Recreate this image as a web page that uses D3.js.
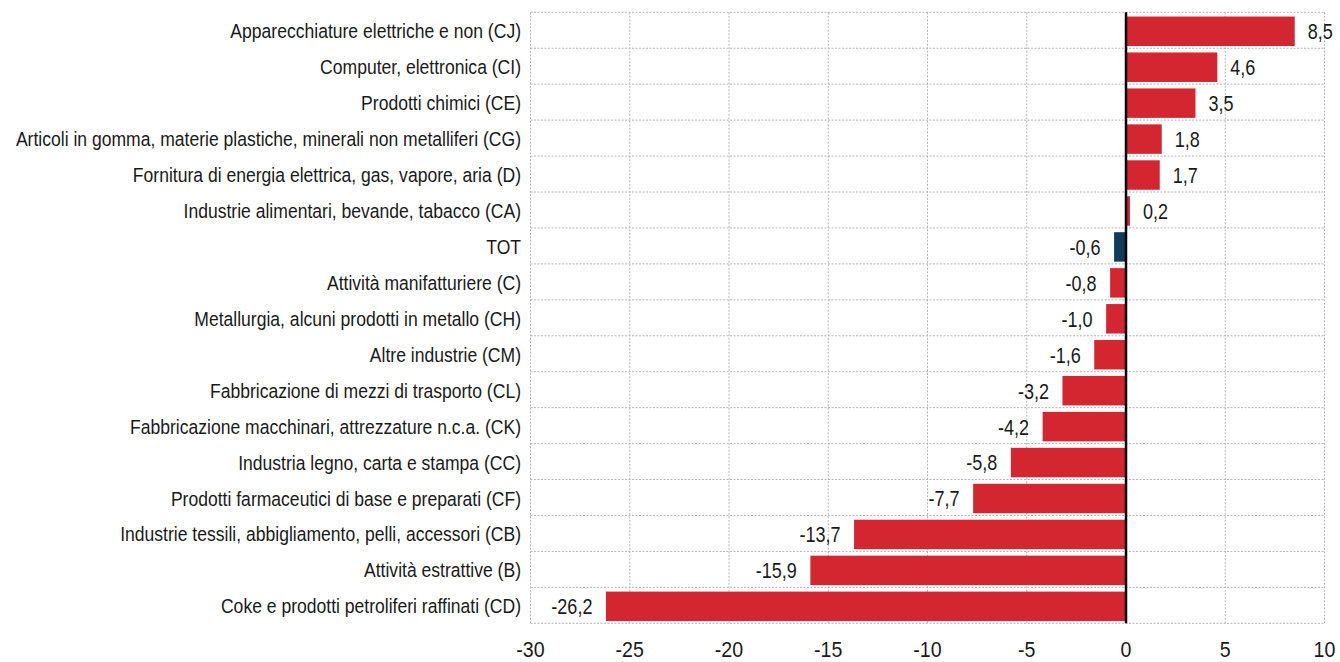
<!DOCTYPE html>
<html><head><meta charset="utf-8">
<script src="https://cdn.jsdelivr.net/npm/d3@7"></script>
<style>
html,body{margin:0;padding:0;background:#fff;}
svg{display:block;}
text{font-family:"Liberation Sans",Arial,sans-serif;fill:#1a1a1a;}
</style></head>
<body><svg id="chart" width="1340" height="662"></svg>
<script>
const categories = [
  "Apparecchiature elettriche e non (CJ)",
  "Computer, elettronica (CI)",
  "Prodotti chimici (CE)",
  "Articoli in gomma, materie plastiche, minerali non metalliferi (CG)",
  "Fornitura di energia elettrica, gas, vapore, aria (D)",
  "Industrie alimentari, bevande, tabacco (CA)",
  "TOT",
  "Attività manifatturiere (C)",
  "Metallurgia, alcuni prodotti in metallo (CH)",
  "Altre industrie (CM)",
  "Fabbricazione di mezzi di trasporto (CL)",
  "Fabbricazione macchinari, attrezzature n.c.a. (CK)",
  "Industria legno, carta e stampa (CC)",
  "Prodotti farmaceutici di base e preparati (CF)",
  "Industrie tessili, abbigliamento, pelli, accessori (CB)",
  "Attività estrattive (B)",
  "Coke e prodotti petroliferi raffinati (CD)"
];
const values = [8.5, 4.6, 3.5, 1.8, 1.7, 0.2, -0.6, -0.8, -1.0, -1.6, -3.2, -4.2, -5.8, -7.7, -13.7, -15.9, -26.2];
const xTicks = [-30, -25, -20, -15, -10, -5, 0, 5, 10];
const highlight = "TOT";

const svg = d3.select("#chart");
const m = {left: 530.5, right: 1324.5, top: 12.3, bottom: 623.3};

const x = d3.scaleLinear().domain([-30, 10]).range([m.left, m.right]);
const y = d3.scaleBand().domain(categories).range([m.top, m.bottom]).paddingInner(0.18).paddingOuter(0.09);
const step = y.step();

const fmt = v => d3.format(".1f")(v).replace(".", ",").replace("−", "-");

// grid
const grid = svg.append("g").attr("stroke", "#b5b5b5").attr("stroke-width", 1).attr("stroke-dasharray", "2,1.5").attr("fill", "none");
xTicks.forEach(t => {
  if (t === 0) return;
  grid.append("line").attr("x1", x(t)).attr("x2", x(t)).attr("y1", m.top).attr("y2", m.bottom);
});
for (let i = 0; i <= categories.length; i++) {
  const yy = m.top + i * step;
  grid.append("line").attr("x1", m.left).attr("x2", m.right).attr("y1", yy).attr("y2", yy);
}

// bars
svg.append("g").selectAll("rect").data(categories).join("rect")
  .attr("x", (d, i) => Math.min(x(0), x(values[i])))
  .attr("width", (d, i) => Math.abs(x(values[i]) - x(0)))
  .attr("y", d => y(d) + 1)
  .attr("height", y.bandwidth())
  .attr("fill", d => d === highlight ? "#0e3d5c" : "#d42630");

// zero line
svg.append("line").attr("x1", x(0)).attr("x2", x(0)).attr("y1", m.top).attr("y2", m.bottom)
  .attr("stroke", "#000").attr("stroke-width", 2.5);

// value labels (narrowed)
svg.append("g").selectAll("text").data(categories).join("text")
  .attr("transform", (d, i) => {
    const tx = values[i] >= 0 ? x(values[i]) + 13 : x(values[i]) - 13.5;
    return `translate(${tx},${y(d) + y.bandwidth() / 2 + 1}) scale(0.82,1)`;
  })
  .attr("dy", "0.36em")
  .attr("text-anchor", (d, i) => values[i] >= 0 ? "start" : "end")
  .attr("font-size", 22)
  .text((d, i) => fmt(values[i]));

// category labels (narrowed)
svg.append("g").selectAll("text").data(categories).join("text")
  .attr("transform", d => `translate(521,${y(d) + y.bandwidth() / 2 + 1}) scale(0.9,1)`)
  .attr("dy", "0.36em")
  .attr("text-anchor", "end")
  .attr("font-size", 19.5)
  .text(d => d);

// x axis tick labels
svg.append("g").selectAll("text").data(xTicks).join("text")
  .attr("transform", d => `translate(${x(d)},657) scale(0.87,1)`)
  .attr("text-anchor", "middle")
  .attr("font-size", 22.5)
  .text(d => String(d));
</script></body></html>
